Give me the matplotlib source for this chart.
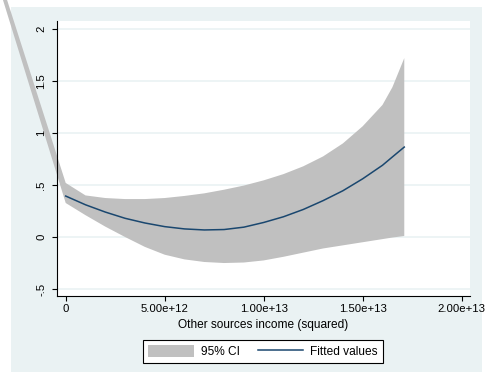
import matplotlib
matplotlib.use("Agg")
import matplotlib.pyplot as plt
from matplotlib.patches import Rectangle
import numpy as np

# values (x in units of 1e12)
x_vals = [0, 1, 2, 3, 4, 5, 6, 7, 8, 9, 10, 11, 12, 13, 14, 15, 16, 16.5, 17.1]
fitted = [0.394, 0.31, 0.24, 0.18, 0.135, 0.10, 0.078, 0.068, 0.072, 0.095,
          0.14, 0.195, 0.265, 0.35, 0.445, 0.56, 0.69, 0.77, 0.865]
ci_low = [0.327, 0.21, 0.10, 0.0, -0.095, -0.17, -0.215, -0.24, -0.25, -0.245,
          -0.225, -0.19, -0.15, -0.11, -0.08, -0.05, -0.02, -0.005, 0.01]
ci_high = [0.52, 0.40, 0.375, 0.365, 0.365, 0.375, 0.395, 0.42, 0.455, 0.495,
           0.545, 0.605, 0.68, 0.775, 0.90, 1.065, 1.27, 1.44, 1.72]
# the CI area starts at a stray point left of the plot region
ci_start = (-3.3, 2.36, 2.48)

x_ticks = [0, 5e12, 1e13, 1.5e13, 2e13]
x_tick_labels = ["0", "5.00e+12", "1.00e+13", "1.50e+13", "2.00e+13"]
y_ticks = [-0.5, 0, 0.5, 1, 1.5, 2]
y_tick_labels = ["-.5", "0", ".5", "1", "1.5", "2"]

BG = "#EAF2F3"
NAVY = "#1A476F"
GRAY = "#C0C0C0"

plt.rcParams["font.family"] = ["Liberation Sans", "DejaVu Sans"]
tick_fs, title_fs, leg_fs = 8.2, 8.6, 8.6

W, H = 492, 372
fig = plt.figure(figsize=(W / 100, H / 100), dpi=100, facecolor="white")
fig.patches.append(Rectangle((11 / W, 0), (482 - 11) / W, (H - 7) / H,
                             transform=fig.transFigure, facecolor=BG,
                             edgecolor="none", zorder=-5))

ax = fig.add_axes([57 / W, 1 - 296 / H, (470 - 57) / W, (296 - 21) / H])
ax.set_facecolor("white")

cx = np.array([ci_start[0]] + x_vals) * 1e12
clo = [ci_start[1]] + ci_low
chi = [ci_start[2]] + ci_high
ax.fill_between(cx, clo, chi, facecolor=GRAY, edgecolor="none", lw=0,
                clip_on=False, zorder=2, label="95% CI")
ax.plot(np.array(x_vals) * 1e12, fitted, color=NAVY, lw=1.1, zorder=3,
        label="Fitted values")

ax.set_xlim(-0.44e12, 20.42e12)
ax.set_ylim(-0.567, 2.077)

ax.set_xticks(x_ticks)
ax.set_xticklabels(x_tick_labels, fontsize=tick_fs)
ax.set_yticks(y_ticks)
ax.set_yticklabels(y_tick_labels, fontsize=tick_fs, rotation=90, va="center")
ax.tick_params(direction="out", length=3.6, width=0.8, color="black")
ax.tick_params(axis="x", pad=2.2)
ax.tick_params(axis="y", pad=4)

ax.grid(axis="y", color=BG, lw=1.2)
ax.set_axisbelow(True)
for s in ["top", "right"]:
    ax.spines[s].set_visible(False)
for s in ["left", "bottom"]:
    ax.spines[s].set_linewidth(0.8)

fig.text(263.5 / W, 1 - 325 / H, "Other sources income (squared)",
         fontsize=title_fs, ha="center", va="center")

leg = ax.legend(loc="center", bbox_to_anchor=(263 / W, 1 - 351.5 / H),
                bbox_transform=fig.transFigure, ncol=2, fontsize=leg_fs,
                frameon=True, fancybox=False, framealpha=1, edgecolor="black",
                borderpad=0.4, handlelength=3.8, handleheight=1.15,
                handletextpad=0.6, columnspacing=1.5)
leg.get_frame().set_linewidth(0.8)

fig.savefig("out.png", dpi=100, facecolor="white")
